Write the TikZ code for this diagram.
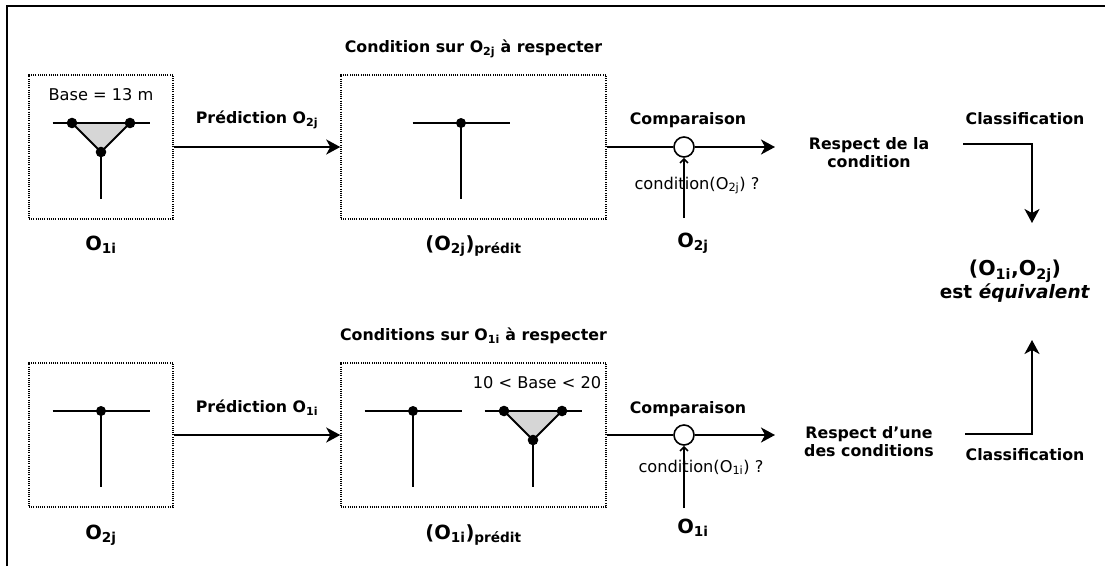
\documentclass[tikz,border=0pt]{standalone}
\usepackage{fontspec}
\setmainfont{DejaVu Sans}
\usetikzlibrary{arrows.meta}
% T junction: bar, stem and one node
\newcommand\tee[2]{\draw (#1-48.5,#2) -- (#1+48.5,#2);
  \draw (#1,#2) -- (#1,#2+76);
  \fill (#1,#2) circle (5pt);}
% triangle junction with shaded base
\newcommand\tri[2]{\fill[black!16] (#1-29,#2) -- (#1+29,#2) -- (#1,#2+29) -- cycle;
  \draw (#1-48.5,#2) -- (#1+48.5,#2);
  \draw (#1-29,#2) -- (#1,#2+29) -- (#1+29,#2);
  \draw (#1,#2+29) -- (#1,#2+76);
  \fill (#1-29,#2) circle (5.3pt) (#1+29,#2) circle (5.3pt) (#1,#2+29) circle (5.3pt);}

\begin{document}
\begin{tikzpicture}[x=1pt, y=-1pt, line width=2pt,
    lab/.style={inner sep=0pt, anchor=base, font=\fontsize{16.2}{18}\selectfont},
    tit/.style={lab, font=\fontsize{15.8}{18}\selectfont\bfseries},
    big/.style={lab, font=\fontsize{19.5}{21}\selectfont\bfseries},
    obox/.style={draw, line width=1.5pt, dash pattern=on 1pt off 1.2pt, inner sep=0pt,
      minimum height=144pt},
    cmp/.style={draw, circle, fill=white, minimum size=20pt, inner sep=0pt, line width=1.6pt},
    arr/.style={-{Stealth[length=14pt, width=15pt, inset=4pt]}},
    inarr/.style={line width=1.6pt, -{Straight Barb[length=4pt, width=8pt]}}]
  \useasboundingbox (0,0) rectangle (1105,566);
  \draw[line width=2.2pt] (7,566) -- (7,6) -- (1105,6);
  % column centres
  \def\xA{101} \def\xB{473.5} \def\xC{684} \def\xD{869} \def\xE{1025}
  % ---- upper row -----------------------------------------------------
  \node[obox, minimum width=144pt] (bA1) at (\xA,147) {};
  \node[obox, minimum width=265pt] (bA2) at (\xB,147) {};
  \tri{101}{123}
  \tee{461}{123}
  \node[lab] (baseA) at (\xA,100) {Base = 13 m};
  \node[tit] (predA) at (257,123) {Prédiction O\textsubscript{2j}};
  \node[big] (oA) at (\xA,250) {O\textsubscript{1i}};
  \node[tit] (condA) at (\xB,52) {Condition sur O\textsubscript{2j} à respecter};
  \node[big] (pA) at (\xB,250) {(O\textsubscript{2j})\textsubscript{prédit}};
  \node[tit] (cmpA) at (688,124) {Comparaison};
  \node[cmp] (cA) at (\xC,147) {};
  \node[lab] (qA) at (697,189) {condition(O\textsubscript{2j}) ?};
  \node[big] (inA) at (693,247) {O\textsubscript{2j}};
  \node[tit, align=center] (respA) at (\xD,167) {Respect de la\\condition};
  \node[tit] (clA) at (\xE,124) {Classification};
  \coordinate (eA) at (775,147);
  \coordinate (sA) at (\xC,218);
  \coordinate (kA) at (963,144);
  \coordinate (tA) at (1032,223);
  % ---- lower row -----------------------------------------------------
  \node[obox, minimum width=144pt] (bB1) at (\xA,435) {};
  \node[obox, minimum width=265pt] (bB2) at (\xB,435) {};
  \tee{101}{411}
  \tee{413}{411}
  \tri{533}{411}
  \node[lab] (baseB) at (537,388) {10 < Base < 20};
  \node[tit] (predB) at (257,412) {Prédiction O\textsubscript{1i}};
  \node[big] (oB) at (\xA,539) {O\textsubscript{2j}};
  \node[tit] (condB) at (\xB,340) {Conditions sur O\textsubscript{1i} à respecter};
  \node[big] (pB) at (\xB,539) {(O\textsubscript{1i})\textsubscript{prédit}};
  \node[tit] (cmpB) at (688,413) {Comparaison};
  \node[cmp] (cB) at (\xC,435) {};
  \node[lab] (qB) at (701,472) {condition(O\textsubscript{1i}) ?};
  \node[big] (inB) at (693,533) {O\textsubscript{1i}};
  \node[tit, align=center] (respB) at (\xD,456) {Respect d’une\\des conditions};
  \node[tit] (clB) at (\xE,460) {Classification};
  \coordinate (eB) at (775,435);
  \coordinate (sB) at (\xC,508);
  \coordinate (kB) at (965,434);
  \coordinate (tB) at (1032,340);
  % ---- result --------------------------------------------------------
  \node[big, align=center, font=\fontsize{18.5}{21}\selectfont\bfseries] (res) at (1015,298)
    {{\fontsize{20.5}{21}\selectfont(O\textsubscript{1i},O\textsubscript{2j})}\\est \textit{équivalent}};
  % ---- connectors ----------------------------------------------------
  \foreach \r in {A,B}{
    \draw[arr] (b\r1) -- (b\r2);
    \draw (b\r2) -- (c\r);
    \draw[arr] (c\r) -- (e\r);
    \draw[inarr] (s\r) -- (c\r);
    \draw[arr] (k\r) -| (t\r);
  }
\end{tikzpicture}
\end{document}
